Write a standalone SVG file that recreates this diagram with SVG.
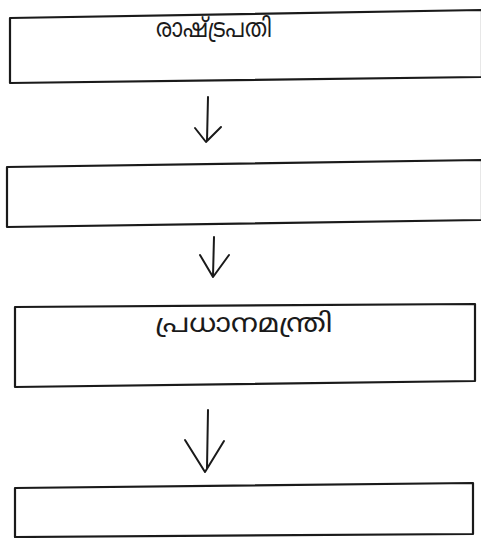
<svg xmlns="http://www.w3.org/2000/svg" width="481" height="538" viewBox="0 0 481 538">
<style>
.box{fill:none;stroke:#1a1a1a;stroke-width:2.2;stroke-linejoin:round}
.lbl{font-family:"Noto Sans Malayalam","Noto Sans","DejaVu Sans",sans-serif;font-size:26px;fill:#1a1a1a;text-anchor:middle}
.arr{fill:none;stroke:#1a1a1a;stroke-width:2;stroke-linecap:round;stroke-linejoin:round}
</style>
<rect width="481" height="538" fill="#ffffff"/>
<g id="node1">
<polygon class="box" points="10,18 482,10 482,77 10,83"/>
<text class="lbl" x="214" y="37" textLength="116" lengthAdjust="spacingAndGlyphs">രാഷ്ട്രപതി</text>
</g>
<g id="node2">
<polygon class="box" points="7,167 482,160 482,220 7,227"/>
</g>
<g id="node3">
<polygon class="box" points="15,307 475,304 475,381 15,387"/>
<text class="lbl" x="244" y="332" textLength="177" lengthAdjust="spacingAndGlyphs">പ്രധാനമന്ത്രി</text>
</g>
<g id="node4">
<polygon class="box" points="15,488 473,483 473,534 15,537"/>
</g>
<g id="connectors">
<path class="arr" d="M208,97 L207,141 M195,128 L206,142 L221,127"/>
<path class="arr" d="M214,237 L213,276 M200,255 L213,277 L229,255"/>
<path class="arr" d="M208,410 L207,468 M185,440 L205,472 L224,441"/>
</g>
</svg>
